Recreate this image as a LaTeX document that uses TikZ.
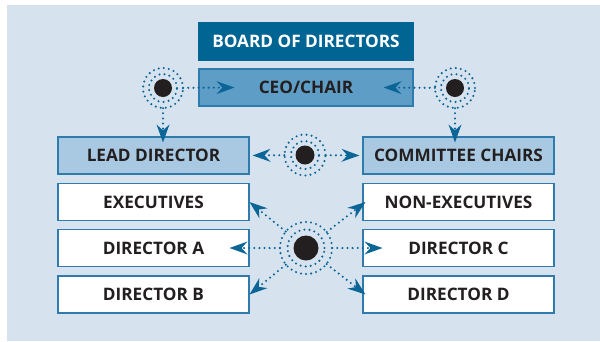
\documentclass[tikz,border=0pt]{standalone}
\usepackage{fontspec}
\setsansfont{Open Sans}
\usetikzlibrary{arrows.meta,calc}
\definecolor{panel}{HTML}{D6E3EF}
\definecolor{boardblue}{HTML}{006593}
\definecolor{ceoblue}{HTML}{5E9EC6}
\definecolor{leadblue}{HTML}{A9C9E2}
\definecolor{edgeblue}{HTML}{2E7BAE}
\definecolor{arrowblue}{HTML}{0B6597}
\definecolor{inkdark}{HTML}{231F20}
\begin{document}
\begin{tikzpicture}[x=1pt,y=-1pt,
    box/.style={draw=edgeblue,line width=1.1pt,minimum width=191pt,minimum height=37pt,inner sep=0pt,
      font=\sffamily\bfseries\fontsize{17.2}{19}\selectfont,text=inkdark},
    whitebox/.style={box,fill=white},
    leadbox/.style={box,fill=leadblue},
    dots/.style={arrowblue,line width=2.3pt,line cap=round,dash pattern=on 0pt off 5.1pt},
    link/.style={dots,-{Stealth[length=18pt,width=13pt,inset=6pt,line width=0pt]}},
    hubring/.style={circle,inner sep=0pt}]
  \useasboundingbox (0,0) rectangle (600,341);
  \fill[panel] (7,5) rectangle (600,341);
  % top boxes
  \node[box,fill=boardblue,draw=boardblue,text=white,minimum width=214pt] (board) at (306,41.5) {BOARD OF DIRECTORS};
  \node[box,fill=ceoblue,draw=edgeblue,minimum width=214pt] (ceo) at (306,87.5) {CEO/CHAIR};
  % left column
  \node[leadbox] (lead) at (153.5,155.5) {LEAD DIRECTOR};
  \node[whitebox] (exec) at (153.5,202) {EXECUTIVES};
  \node[whitebox] (dira) at (153.5,248) {DIRECTOR A};
  \node[whitebox] (dirb) at (153.5,294.5) {DIRECTOR B};
  % right column
  \node[leadbox] (chairs) at (458.5,155.5) {COMMITTEE CHAIRS};
  \node[whitebox] (nonexec) at (458.5,202) {NON-EXECUTIVES};
  \node[whitebox] (dirc) at (458.5,248) {DIRECTOR C};
  \node[whitebox] (dird) at (458.5,294.5) {DIRECTOR D};
  % hubs
  \foreach \hub/\pos/\rdot/\rin/\rout in {hubL/{163,88}/9/14/20,hubR/{455,88}/9/14/20,
      hubM/{305,155}/9.5/14/20.5,hubC/{306,248}/12.5/18.5/26}{
    \node[hubring,minimum size=2*\rout*1pt] (\hub) at (\pos) {};
    \fill[inkdark] (\hub) circle (\rdot pt);
    \draw[dots] (\hub) circle (\rin pt);
    \draw[dots] (\hub) circle (\rout pt);
  }
  % arrows
  \draw[link] (hubL) -- ([xshift=36pt]ceo.west);
  \draw[link] (hubR) -- ([xshift=-30pt]ceo.east);
  \draw[link] (hubL) -- ($(hubL |- lead.north)+(0,6)$);
  \draw[link] (hubR) -- ($(hubR |- chairs.north)+(0,6)$);
  \draw[link,shorten >=3pt] (hubM) -- (lead.east);
  \draw[link,shorten >=3pt] (hubM) -- (chairs.west);
  \draw[link] (hubC) -- (exec.east);
  \draw[link] (hubC) -- ([xshift=-20pt]dira.east);
  \draw[link] (hubC) -- (dirb.east);
  \draw[link] (hubC) -- ([xshift=3pt]nonexec.west);
  \draw[link] (hubC) -- ([xshift=20pt]dirc.west);
  \draw[link] (hubC) -- ([xshift=3pt]dird.west);
\end{tikzpicture}
\end{document}
